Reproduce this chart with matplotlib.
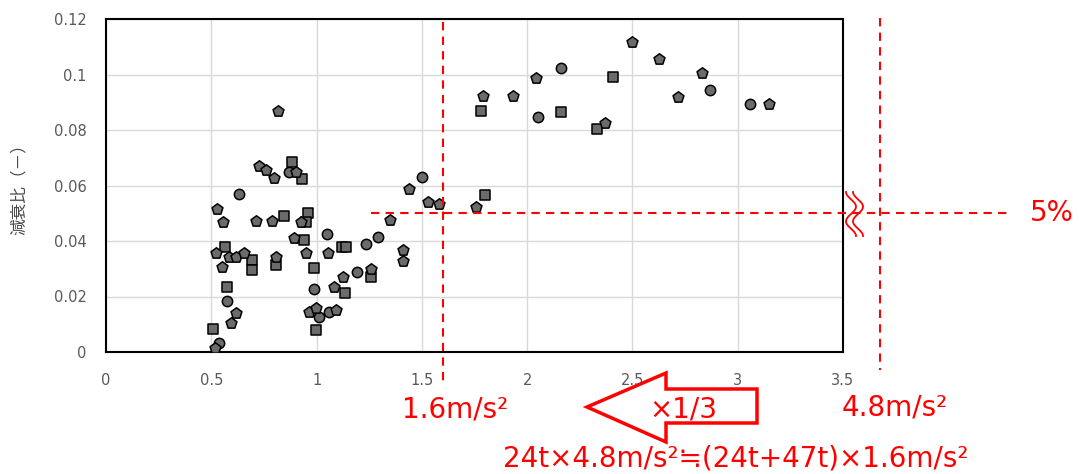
import numpy as np
import matplotlib
matplotlib.use("Agg")
from matplotlib import pyplot as plt
from matplotlib.patches import Polygon
from matplotlib.lines import Line2D

plt.rcParams['font.family'] = ['DejaVu Sans', 'Noto Sans CJK JP']

# data: acceleration (m/s2) vs damping ratio
circ_x = [2.16, 2.05, 2.867, 3.06, 1.50, 0.632, 0.87, 1.05, 1.29, 1.236, 0.99, 0.576, 0.535, 1.19, 1.06, 1.01]
circ_y = [0.1023, 0.0847, 0.0944, 0.0894, 0.0631, 0.0569, 0.0649, 0.0425, 0.0414, 0.0389, 0.0227, 0.0184, 0.0032, 0.0288, 0.0144, 0.0126]

sq_x = [2.41, 2.16, 1.78, 2.33, 1.80, 0.885, 0.957, 0.95, 0.93, 0.846, 1.12, 1.14, 0.695, 0.695, 0.808, 0.566,
        1.26, 1.137, 0.576, 0.998, 0.51, 0.94, 0.99]
sq_y = [0.0991, 0.0865, 0.0868, 0.0804, 0.0566, 0.0685, 0.0501, 0.0468, 0.0623, 0.049, 0.0378, 0.0378, 0.0331, 0.0296, 0.0313, 0.0378,
        0.0270, 0.0213, 0.0234, 0.0079, 0.0083, 0.0404, 0.0303]

pent_x = [2.497, 2.625, 2.83, 2.716, 3.15, 2.04, 1.935, 1.79, 2.37, 1.755, 1.527, 1.583, 0.818, 0.728, 0.76, 0.80,
          0.90, 0.528, 0.556, 0.71, 0.79, 0.927, 0.894, 1.35, 1.44, 1.056, 0.95, 0.523, 0.55, 0.585, 0.618, 0.656,
          0.808, 1.41, 1.41, 1.26, 1.127, 1.084, 0.618, 0.594, 0.52, 0.965, 1.09, 0.998]
pent_y = [0.1117, 0.1056, 0.1005, 0.0919, 0.0894, 0.0987, 0.0923, 0.0923, 0.0825, 0.0523, 0.054, 0.0533, 0.0868, 0.067, 0.0656, 0.0627,
          0.0649, 0.0515, 0.0468, 0.0472, 0.0472, 0.0468, 0.0411, 0.0476, 0.0587, 0.0357, 0.0357, 0.0357, 0.0306, 0.0342, 0.0342, 0.0357,
          0.0342, 0.0368, 0.0328, 0.0299, 0.0270, 0.0234, 0.0140, 0.0104, 0.0014, 0.0144, 0.0151, 0.0158]

x_ticks = [0, 0.5, 1, 1.5, 2, 2.5, 3, 3.5]
x_labels = ['0', '0.5', '1', '1.5', '2', '2.5', '3', '3.5']
y_ticks = [0, 0.02, 0.04, 0.06, 0.08, 0.1, 0.12]
y_labels = ['0', '0.02', '0.04', '0.06', '0.08', '0.1', '0.12']

W, H = 1079, 474
fig = plt.figure(figsize=(W / 100, H / 100), dpi=100)
ax = fig.add_axes([106 / W, 1 - 352 / H, (843 - 106) / W, (352 - 19) / H])

def px(x, y):
    # pixel position -> figure fraction
    return np.asarray(x) / W, 1 - np.asarray(y) / H

mk = dict(facecolor='#6b6b6b', edgecolor='black', linewidths=1.1, zorder=3)
ax.scatter(circ_x, circ_y, marker='o', s=55, **mk)
ax.scatter(sq_x, sq_y, marker='s', s=46, **mk)
ax.scatter(pent_x, pent_y, marker='p', s=68, **mk)

ax.set_xlim(0, 3.5)
ax.set_ylim(0, 0.12)
ax.set_xticks(x_ticks)
ax.set_xticklabels(x_labels)
ax.set_yticks(y_ticks)
ax.set_yticklabels(y_labels)
ax.grid(True, color='#d9d9d9', lw=1)
ax.set_axisbelow(True)
ax.tick_params(length=0, labelsize=10.5, labelcolor='#595959')
ax.tick_params(axis='x', pad=15)
ax.tick_params(axis='y', pad=14)
for s in ax.spines.values():
    s.set_color('black')
    s.set_linewidth(1.5)

ax.set_ylabel('減衰比（－）', family=['Noto Sans CJK JP'], color='#4a4a4a', fontsize=12)
ax.yaxis.set_label_coords((28 - 106) / 737, 0.5)

# red guide lines
red = '#ff0000'
dash = dict(color=red, lw=1.5, ls=(0, (4, 3)), clip_on=False, zorder=4)
ax.plot([1.6, 1.6], [0.119, -0.0105], **dash)
ax.plot([1.26, 4.294], [0.05, 0.05], **dash)
ax.plot([3.676, 3.676], [0.1205, -0.0065], **dash)

# wavy break mark
t = np.linspace(0, 1, 60)
for dx in (0, 7):
    xs = 851 + dx + 5 * np.sin(2 * np.pi * 1.5 * t - np.pi / 2)
    ys = 192 + t * 44
    fx, fy = px(xs, ys)
    fig.add_artist(Line2D(fx, fy, color=red, lw=1.3, transform=fig.transFigure))

# block arrow
pts = [(587, 407), (666, 373), (666, 389), (757, 389), (757, 423), (666, 423), (666, 442)]
fig.add_artist(Polygon([px(a, b) for a, b in pts], closed=True, facecolor='white',
                       edgecolor=red, lw=2.5, transform=fig.transFigure))

fs = 20
fig.text(*px(1030, 213), '5%', color=red, fontsize=fs, ha='left', va='center')
fig.text(*px(402, 410), '1.6m/s²', color=red, fontsize=fs, ha='left', va='center')
fig.text(*px(842, 407), '4.8m/s²', color=red, fontsize=fs, ha='left', va='center')
fig.text(*px(683, 410), '×1/3', color=red, fontsize=fs, ha='center', va='center')
fig.text(*px(736, 458), '24t×4.8m/s²≒(24t+47t)×1.6m/s²', color=red, fontsize=fs,
         ha='center', va='center')

fig.savefig('out.png', dpi=100)
